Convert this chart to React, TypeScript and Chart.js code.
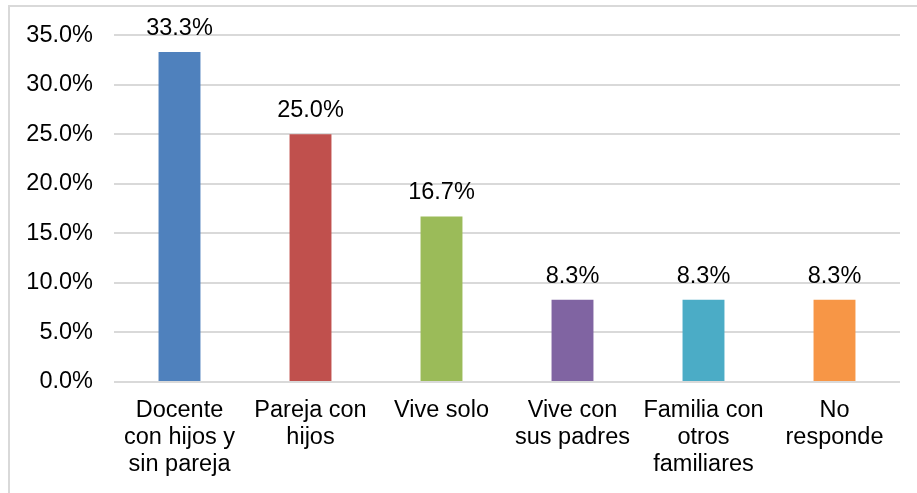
import React, { useEffect, useRef } from "react";
import { Chart, registerables } from "chart.js";

Chart.register(...registerables);

const categories: string[][] = [
  ["Docente", "con hijos y", "sin pareja"],
  ["Pareja con", "hijos"],
  ["Vive solo"],
  ["Vive con", "sus padres"],
  ["Familia con", "otros", "familiares"],
  ["No", "responde"],
];
const values: number[] = [33.3, 25.0, 16.7, 8.3, 8.3, 8.3];
const barColors: string[] = ["#4f81bd", "#c0504d", "#9bbb59", "#8064a2", "#4bacc6", "#f79646"];
const yMin = 0;
const yMax = 35;
const yStep = 5;

const FONT = '"Liberation Sans", Arial, sans-serif';
const FS = 23.5;

const dataLabelPlugin = {
  id: "dataLabels",
  afterDatasetsDraw(chart: any) {
    const ctx = chart.ctx;
    const meta = chart.getDatasetMeta(0);
    ctx.save();
    ctx.fillStyle = "#000";
    ctx.font = `${FS}px ${FONT}`;
    ctx.textAlign = "center";
    ctx.textBaseline = "alphabetic";
    meta.data.forEach((bar: any, i: number) => {
      ctx.fillText(values[i].toFixed(1) + "%", bar.x, bar.y - 17);
    });
    ctx.restore();
  },
};

export default function App() {
  const ref = useRef<HTMLCanvasElement>(null);
  useEffect(() => {
    if (!ref.current) return;
    const chart = new Chart(ref.current, {
      type: "bar",
      data: {
        labels: categories,
        datasets: [
          {
            data: values,
            backgroundColor: barColors,
            borderWidth: 0,
            categoryPercentage: 1,
            barPercentage: 0.32,
          },
        ],
      },
      options: {
        responsive: false,
        animation: false,
        devicePixelRatio: 1,
        layout: { padding: { left: 0, top: 35, right: 17, bottom: 0 } },
        plugins: { legend: { display: false }, tooltip: { enabled: false } },
        scales: {
          x: {
            grid: { display: false, drawTicks: false },
            border: { display: false },
            ticks: {
              color: "#000",
              font: { family: FONT, size: FS, lineHeight: 1.15 },
              padding: 15,
              maxRotation: 0,
              autoSkip: false,
            },
            afterFit(scale: any) {
              scale.height = 111;
            },
          },
          y: {
            min: yMin,
            max: yMax,
            grid: { color: "#d9d9d9", lineWidth: 2, drawTicks: false },
            border: { display: false },
            ticks: {
              stepSize: yStep,
              color: "#000",
              font: { family: FONT, size: FS },
              padding: 21,
              callback: (v: any) => Number(v).toFixed(1) + "%",
            },
            afterFit(scale: any) {
              scale.width = 114;
            },
          },
        },
      },
      plugins: [dataLabelPlugin],
    });
    return () => chart.destroy();
  }, []);

  return (
    <div>
      <div
        style={{
          position: "fixed",
          left: 8,
          top: 5,
          width: 1000,
          height: 1000,
          borderLeft: "2px solid #d9d9d9",
          borderTop: "2px solid #d9d9d9",
          boxSizing: "border-box",
        }}
      />
      <canvas
        ref={ref}
        width={917}
        height={493}
        style={{ position: "fixed", left: 0, top: 0, width: 917, height: 493 }}
      />
    </div>
  );
}
